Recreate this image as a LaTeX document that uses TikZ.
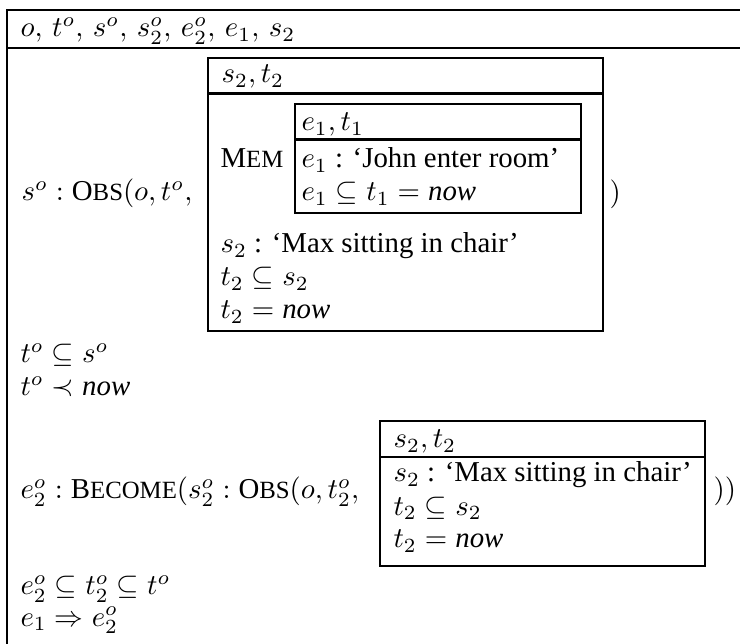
\documentclass[tikz,border=0pt]{standalone}
\usepackage[no-math]{fontspec}
\setmainfont{Liberation Serif}
\newcommand\smcap[2]{\mbox{#1{\fontsize{8.6pt}{10pt}\selectfont #2}}}
\newcommand\nowt{\mbox{\itshape now}}
\begin{document}
\begin{tikzpicture}[x=0.347pt,y=-0.347pt,
  every node/.style={inner sep=0pt,anchor=base west},
  box/.style={line width=0.85pt},
  outer/.style={line width=0.95pt}]
\useasboundingbox (0,0) rectangle (740,644);
\clip (0,0) rectangle (740,644);
% outer DRS (cut at right and bottom)
\draw[outer] (7,700) -- (7,10) -- (760,10);
\draw[outer] (7,48) -- (760,48);
\node (hdr) at (20,37) {$o,\,t^o,\,s^o,\,s^o_2,\,e^o_2,\,e_1,\,s_2$};
% first observation
\node (obs1) at (21,201) {$s^o : \smcap{O}{BS}(o, t^o,$};
\node[anchor=west] (close1) at (609,194) {$)$};
% box 1
\draw[box] (208,58) rectangle (603,331);
\draw[box] (208,93.5) -- (603,93.5);
\node (b1h) at (221,83) {$s_2, t_2$};
\node (mem) at (220,168) {\smcap{M}{EM}};
% box 2
\draw[box] (295,104) rectangle (581,213);
\draw[box] (295,139.5) -- (581,139.5);
\node (b2h) at (301,131) {$e_1, t_1$};
\node (b2a) at (301,168) {$e_1$ : `John enter room'};
\node (b2b) at (301,201) {$e_1 \subseteq t_1 = \nowt$};
% rest of box 1
\node (b1a) at (220,253) {$s_2$ : `Max sitting in chair'};
\node (b1b) at (220,286) {$t_2 \subseteq s_2$};
\node (b1c) at (220,319) {$t_2 = \nowt$};
% conditions
\node (c1) at (20,363) {$t^o \subseteq s^o$};
\node (c2) at (20,396) {$t^o \prec \nowt$};
% become
\node (bec) at (20,499) {$e^o_2 : \smcap{B}{ECOME}(s^o_2 : \smcap{O}{BS}(o, t^o_2,$};
\node[anchor=west] (close2) at (713,491) {$))$};
% box 3
\draw[box] (380,421) rectangle (705,566);
\draw[box] (380,457) -- (705,457);
\node (b3h) at (393,448) {$s_2, t_2$};
\node (b3a) at (393,482) {$s_2$ : `Max sitting in chair'};
\node (b3b) at (393,515) {$t_2 \subseteq s_2$};
\node (b3c) at (393,548) {$t_2 = \nowt$};
% final conditions
\node (c3) at (20,595) {$e^o_2 \subseteq t^o_2 \subseteq t^o$};
\node (c4) at (20,626) {$e_1 \Rightarrow e^o_2$};
\end{tikzpicture}
\end{document}
